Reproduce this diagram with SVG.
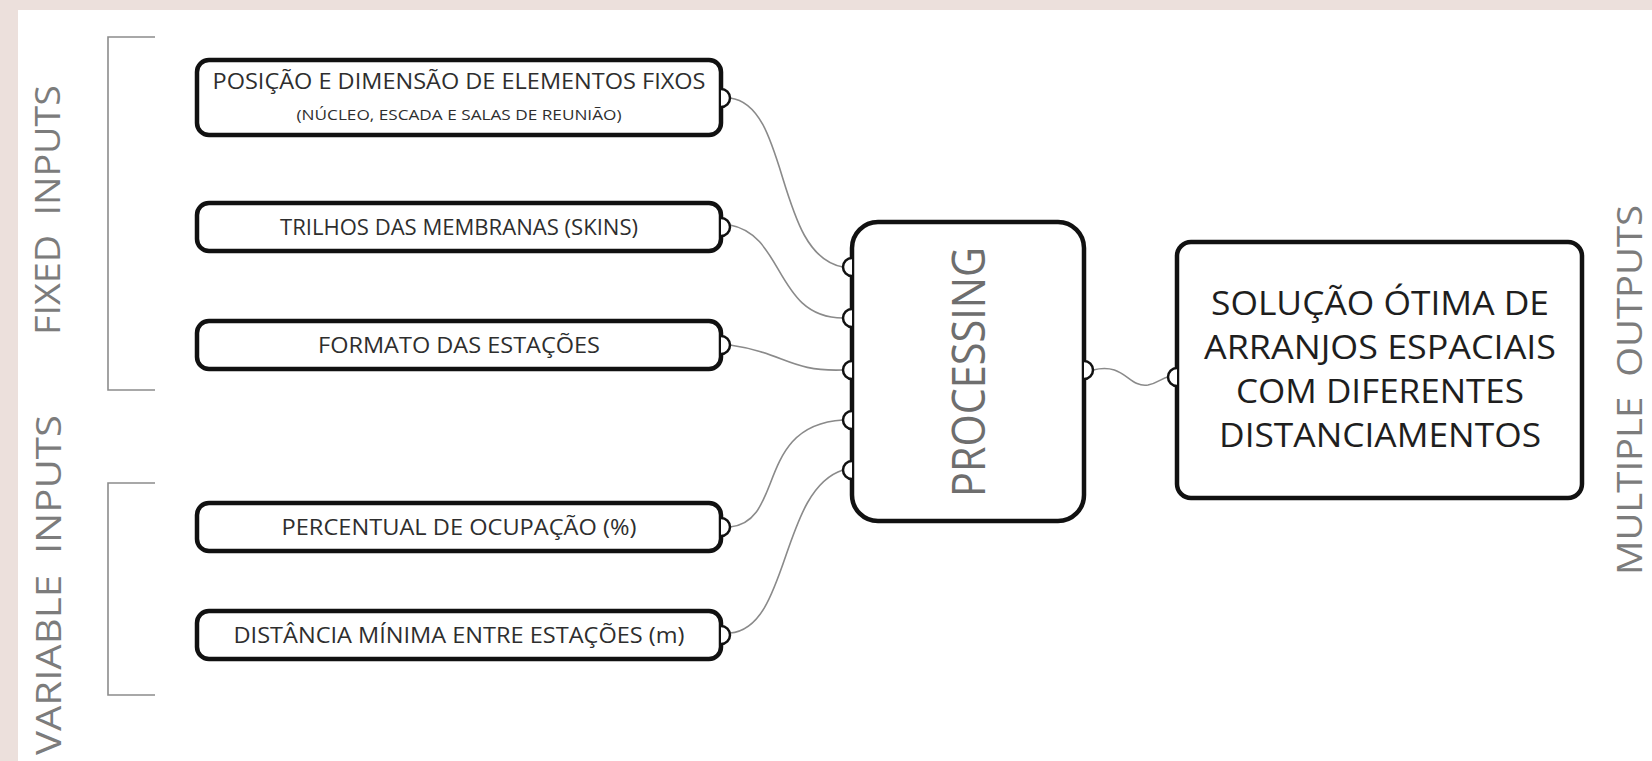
<svg xmlns="http://www.w3.org/2000/svg" width="1652" height="761" viewBox="0 0 1652 761">
<style>
.box{fill:#fff;stroke:#111;stroke-width:4.5}
.port{fill:#fff;stroke:#111;stroke-width:2.5}
.wire{fill:none;stroke:#8a8a8a;stroke-width:1.6}
.brk{fill:none;stroke:#8c8c8c;stroke-width:1.6}
.t{font-family:"Open Sans","Liberation Sans",sans-serif;fill:#2e2e2e;text-anchor:middle}
.in{font-size:22px}
.sub{font-size:15px}
.lbl{font-family:"Open Sans","Liberation Sans",sans-serif;font-size:34px;fill:#7c7c7c;text-anchor:middle}
.proc{font-size:46px;fill:#6e6e6e}
.out{font-size:32px;fill:#1e1e1e}
</style>
<rect x="0" y="0" width="1652" height="761" fill="#ece0dc"/>
<rect x="18" y="10" width="1634" height="751" fill="#fff"/>

<g id="labels">
<text class="lbl" xml:space="preserve" transform="translate(60,210) rotate(-90)" textLength="250" lengthAdjust="spacingAndGlyphs">FIXED  INPUTS</text>
<text class="lbl" xml:space="preserve" transform="translate(61,585) rotate(-90)" textLength="340" lengthAdjust="spacingAndGlyphs">VARIABLE  INPUTS</text>
<text class="lbl" xml:space="preserve" transform="translate(1642,390) rotate(-90)" textLength="370" lengthAdjust="spacingAndGlyphs">MULTIPLE  OUTPUTS</text>
</g>

<g id="brackets">
<path class="brk" d="M155,37 H108 V390 H155"/>
<path class="brk" d="M155,483 H108 V695 H155"/>
</g>

<g id="connectors">
<path class="wire" d="M730,98 C790,105 775,255 843,267"/>
<path class="wire" d="M730,225 C785,235 775,318 843,318"/>
<path class="wire" d="M730,345 C785,353 790,372 843,370"/>
<path class="wire" d="M730,527 C785,522 755,425 843,420"/>
<path class="wire" d="M730,633 C790,628 780,490 843,470"/>
<path class="wire" d="M1093,370 C1125,362 1128,388 1148,385 C1158,383 1162,378 1168,377"/>
</g>

<g id="in1">
<rect class="box" x="197" y="60" width="524" height="75" rx="12"/>
<path class="port" d="M721,89 A9,9 0 0 1 721,107"/>
<text class="t in" x="459" y="89" textLength="493" lengthAdjust="spacingAndGlyphs">POSIÇÃO E DIMENSÃO DE ELEMENTOS FIXOS</text>
<text class="t sub" x="459" y="120" textLength="325" lengthAdjust="spacingAndGlyphs">(NÚCLEO, ESCADA E SALAS DE REUNIÃO)</text>
</g>
<g id="in2">
<rect class="box" x="197" y="203" width="524" height="48" rx="12"/>
<path class="port" d="M721,218 A9,9 0 0 1 721,236"/>
<text class="t in" x="459" y="235" textLength="358" lengthAdjust="spacingAndGlyphs">TRILHOS DAS MEMBRANAS (SKINS)</text>
</g>
<g id="in3">
<rect class="box" x="197" y="321" width="524" height="48" rx="12"/>
<path class="port" d="M721,336 A9,9 0 0 1 721,354"/>
<text class="t in" x="459" y="353" textLength="282" lengthAdjust="spacingAndGlyphs">FORMATO DAS ESTAÇÕES</text>
</g>
<g id="in4">
<rect class="box" x="197" y="503" width="524" height="48" rx="12"/>
<path class="port" d="M721,518 A9,9 0 0 1 721,536"/>
<text class="t in" x="459" y="535" textLength="355" lengthAdjust="spacingAndGlyphs">PERCENTUAL DE OCUPAÇÃO (%)</text>
</g>
<g id="in5">
<rect class="box" x="197" y="611" width="524" height="48" rx="12"/>
<path class="port" d="M721,626 A9,9 0 0 1 721,644"/>
<text class="t in" x="459" y="643" textLength="451" lengthAdjust="spacingAndGlyphs">DISTÂNCIA MÍNIMA ENTRE ESTAÇÕES (m)</text>
</g>

<g id="processing">
<rect class="box" x="852" y="222" width="232" height="299" rx="26"/>
<path class="port" d="M852,258 A9,9 0 0 0 852,276"/>
<path class="port" d="M852,309 A9,9 0 0 0 852,327"/>
<path class="port" d="M852,361 A9,9 0 0 0 852,379"/>
<path class="port" d="M852,411 A9,9 0 0 0 852,429"/>
<path class="port" d="M852,461 A9,9 0 0 0 852,479"/>
<path class="port" d="M1084,361 A9,9 0 0 1 1084,379"/>
<text class="t proc" transform="translate(985,372) rotate(-90)" textLength="250" lengthAdjust="spacingAndGlyphs">PROCESSING</text>
</g>

<g id="output">
<rect class="box" x="1177" y="242" width="405" height="256" rx="14"/>
<path class="port" d="M1177,368 A9,9 0 0 0 1177,386"/>
<text class="t out" x="1380" y="315" textLength="338" lengthAdjust="spacingAndGlyphs">SOLUÇÃO ÓTIMA DE</text>
<text class="t out" x="1380" y="359" textLength="352" lengthAdjust="spacingAndGlyphs">ARRANJOS ESPACIAIS</text>
<text class="t out" x="1380" y="403" textLength="288" lengthAdjust="spacingAndGlyphs">COM DIFERENTES</text>
<text class="t out" x="1380" y="447" textLength="322" lengthAdjust="spacingAndGlyphs">DISTANCIAMENTOS</text>
</g>
</svg>
